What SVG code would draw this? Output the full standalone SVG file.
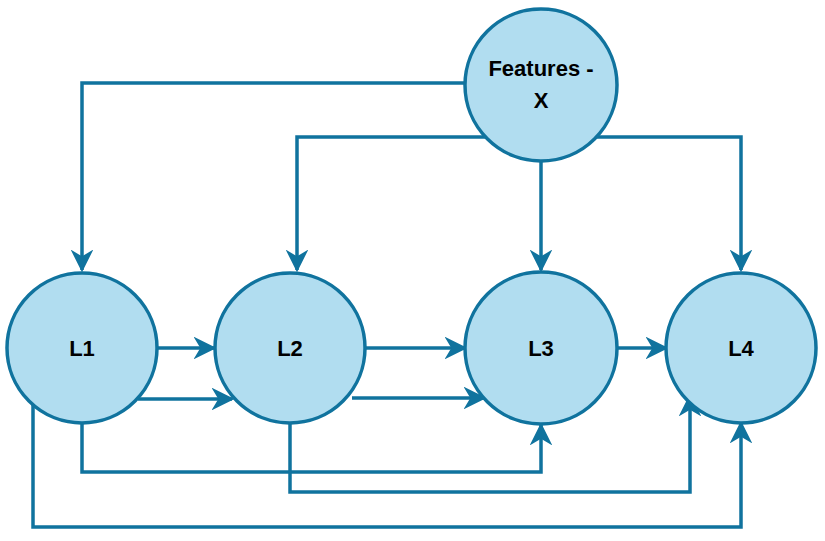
<svg xmlns="http://www.w3.org/2000/svg" width="825" height="541" viewBox="0 0 825 541">
<style>
.n{fill:#b1ddf0;stroke:#10739e;stroke-width:3.5}
.t{font-family:"Liberation Sans",Arial,sans-serif;font-weight:bold;font-size:22px;fill:#000;text-anchor:middle}
.c{fill:none;stroke:#10739e;stroke-width:3.5}
</style>
<defs><marker id="a" viewBox="0 0 10 10" refX="9" refY="5" markerWidth="6.5" markerHeight="6.5" orient="auto" markerUnits="strokeWidth"><path d="M0,0L10,5L0,10L3,5z" fill="#10739e"/></marker></defs>
<rect width="825" height="541" fill="#fff"/>
<g id="connectors">
<path class="c" marker-end="url(#a)" d="M466,83H82V270"/>
<path class="c" marker-end="url(#a)" d="M490,137H297V270"/>
<path class="c" marker-end="url(#a)" d="M541,161V270"/>
<path class="c" marker-end="url(#a)" d="M593,137H741V270"/>
<path class="c" marker-end="url(#a)" d="M157,348H214"/>
<path class="c" marker-end="url(#a)" d="M138,399H232"/>
<path class="c" marker-end="url(#a)" d="M365,348H465"/>
<path class="c" marker-end="url(#a)" d="M352,398H484"/>
<path class="c" marker-end="url(#a)" d="M617,348H666"/>
<path class="c" marker-end="url(#a)" d="M82,422V472H541V425"/>
<path class="c" marker-end="url(#a)" d="M290,423V492H690V396"/>
<path class="c" marker-end="url(#a)" d="M33,405V527H741V423"/>
</g>
<g id="features"><circle class="n" cx="541" cy="85" r="76"/><text class="t" x="541" y="76">Features -</text><text class="t" x="541" y="108">X</text></g>
<g id="L1"><circle class="n" cx="82" cy="348" r="75"/><text class="t" x="82" y="356">L1</text></g>
<g id="L2"><circle class="n" cx="290" cy="348" r="75"/><text class="t" x="290" y="356">L2</text></g>
<g id="L3"><circle class="n" cx="541" cy="348" r="76"/><text class="t" x="541" y="356">L3</text></g>
<g id="L4"><circle class="n" cx="741" cy="348" r="75"/><text class="t" x="741" y="356">L4</text></g>
</svg>
